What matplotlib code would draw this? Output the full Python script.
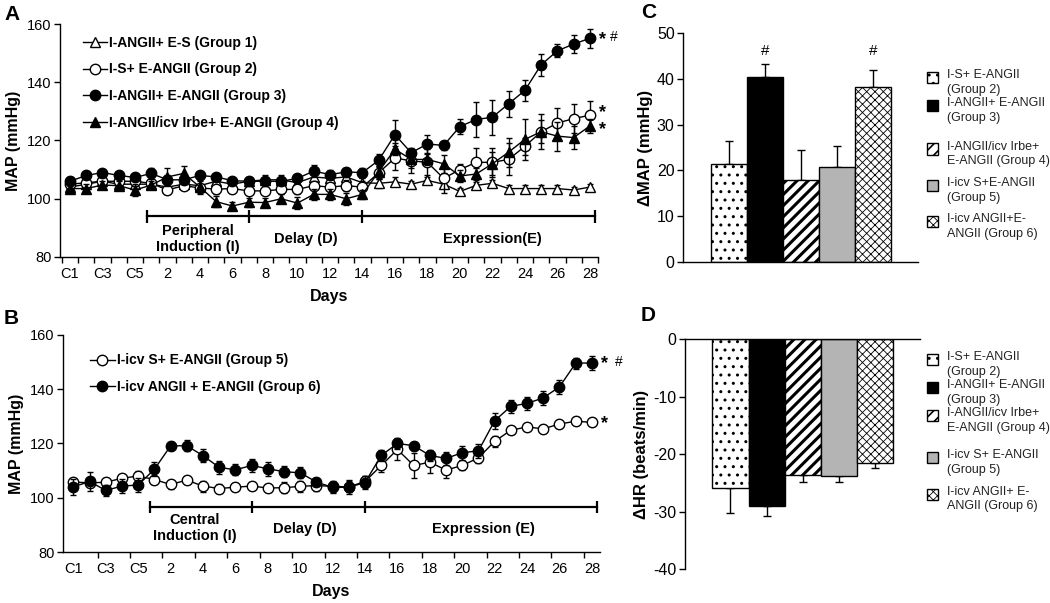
import matplotlib
matplotlib.use('Agg')
import matplotlib.pyplot as plt
from matplotlib.lines import Line2D
from matplotlib.patches import Rectangle
import numpy as np

plt.rcParams['font.family'] = ['Liberation Sans', 'DejaVu Sans']
plt.rcParams['axes.unicode_minus'] = False
plt.rcParams['axes.linewidth'] = 1.0

W, H = 1050, 603

# ------------------------------------------------------------------ data
day_labels = ['C1', 'C3', 'C5'] + [str(d) for d in range(2, 29, 2)]
n_points = 33   # C1..C5 + days 1..28
x_idx = np.arange(n_points)

# Panel A
g1_mean = [104, 105, 106, 105, 105, 105, 104, 105, 104.5, 106, 105, 106, 106.5, 106.5, 105.5, 107.5, 107,
           107.5, 105.5, 105.3, 105.8, 105, 106.3, 105, 102.5, 104.6, 105.3, 103.5, 103.5, 103.5, 103.5, 103, 104]
g1_sem = [1.5] * 21 + [1.2] * 12
g2_mean = [105, 105.5, 106, 106, 106, 105.3, 103, 104.5, 103.7, 103.3, 103.5, 102.7, 102.7, 103.2, 103.2, 104.5,
           104, 104.5, 104, 108.9, 114, 113, 112.5, 107, 110, 112.5, 112.5, 113.5, 118, 123, 126, 127.5, 128.7]
g2_sem = [1.2, 1.2, 1.2, 1.2, 1.5, 1.5, 1.5, 1.5, 1.5, 1.5, 1.5, 1.5, 1.5, 1.5, 1.5, 1.5, 1.5, 2, 2, 2, 4, 4,
          4.5, 5, 2, 5, 5, 5.5, 3, 4, 5, 5, 5]
g3_mean = [106, 108, 109, 108, 107.3, 108.7, 106.5, 106.5, 108, 107.5, 106.2, 106, 106, 106, 107, 109.5, 108.3,
           109.2, 109, 113.2, 122, 115.8, 118.8, 118.3, 124.8, 127.2, 128, 132.6, 137.2, 146, 150.8, 153.1, 155.1]
g3_sem = [1.5, 1, 1, 1, 1, 2, 1.5, 1.5, 1, 1, 1, 1, 1, 1, 1, 2, 1.5, 1.5, 1.5, 2, 5, 1.5, 3, 1.5, 2.5, 6, 6,
          4.5, 3.5, 3.7, 2.3, 3, 3.2]
g4_mean = [103.5, 103.5, 104.7, 104.5, 103, 104.7, 107.5, 108.7, 104, 99, 97.5, 98.8, 98.7, 100, 98.5, 101.5,
           101.5, 100, 101.5, 109.3, 117, 113.5, 113.5, 112, 107.8, 108.5, 112, 116, 120.4, 123, 121.5, 121, 125]
g4_sem = [1.5, 1.5, 1.5, 1.5, 2, 1.5, 3, 2.5, 2.5, 2, 1.5, 1.5, 1.5, 1.5, 2, 2, 2, 2, 1.5, 2, 2, 3, 2, 3, 2, 2,
          4, 5, 7, 6, 5, 4, 2.5]

# Panel B
g5_mean = [105.8, 105.5, 105.7, 107.2, 108, 106.7, 104.9, 106.5, 104.3, 103.4, 103.9, 104.3, 103.6, 103.7, 104.2,
           104.5, 104.2, 104, 106, 111.9, 117.8, 111.9, 113.1, 110.2, 111.9, 114.7, 120.8, 124.9, 126.1, 125.4,
           127.2, 128.2, 127.8]
g5_sem = [1.5, 1.5, 1.5, 1.5, 2, 1.5, 1.5, 1.5, 2, 1.5, 1.5, 1.5, 1.5, 2, 2, 2, 2, 2, 2, 2.5, 4, 4.5, 4, 3,
          1.5, 2, 2, 1.5, 1.5, 1.5, 1.5, 1.5, 1.5]
g6_mean = [104, 106, 102.7, 104.3, 104.7, 110.5, 119.1, 119.2, 115.5, 111.2, 110.3, 111.9, 110.7, 109.6, 109.2,
           105.8, 103.8, 103.9, 105.6, 115.6, 120, 119.2, 115.6, 114.5, 116.6, 117.3, 128.4, 133.7, 134.8, 136.8,
           140.9, 149.6, 149.7]
g6_sem = [3, 3.5, 2, 2.5, 2.5, 2.5, 1.5, 2, 2.5, 2.5, 2, 2.5, 2.5, 2, 2, 1.5, 2, 2.5, 2.5, 2, 2, 1.5, 2, 2.5,
          2.5, 2.5, 3, 2.5, 2.5, 2.5, 2.5, 2, 2.5]

# Panels C and D
bar_groups = ['I-S+ E-ANGII (Group 2)', 'I-ANGII+ E-ANGII (Group 3)', 'I-ANGII/icv Irbe+ E-ANGII (Group 4)',
              'I-icv S+E-ANGII (Group 5)', 'I-icv ANGII+E-ANGII (Group 6)']
dmap_mean = [21.3, 40.5, 17.9, 20.8, 38.2]
dmap_sem = [5.2, 2.8, 6.5, 4.6, 3.7]
dhr_mean = [-25.9, -29.1, -23.7, -23.8, -21.5]
dhr_sem = [4.4, 1.6, 1.1, 1.1, 1.0]

# phase brackets (index positions on the day axis)
phase_edges = [4.75, 11, 18, 32.3]

# ------------------------------------------------------------------ figure
fig = plt.figure(figsize=(10.5, 6.03), dpi=100)


def add_ax(l, t, r, b):
    return fig.add_axes([l / W, 1 - b / H, (r - l) / W, (b - t) / H])


axA = add_ax(60, 24, 598, 257)
axB = add_ax(63, 335, 600, 552)
axC = add_ax(683, 33, 918, 262)
axD = add_ax(685, 339, 920, 569)


def series(ax, y, e, marker, mfc, z, ms=7.5):
    ax.errorbar(x_idx, y, yerr=e, fmt='-', marker=marker, color='black', mfc=mfc, mec='black', ms=ms,
                mew=1.0, lw=1.0, elinewidth=1.0, capsize=2.5, capthick=1.0, zorder=z)


def style_line_ax(ax, xlim, minor_ticks):
    ax.set_xlim(*xlim)
    ax.set_ylim(80, 160)
    ax.set_yticks([80, 100, 120, 140, 160])
    ax.set_xticks(np.arange(0, n_points, 2))
    ax.set_xticklabels(day_labels)
    ax.set_xticks(minor_ticks, minor=True)
    ax.tick_params(axis='x', which='major', length=0, pad=7, labelsize=10.5)
    ax.tick_params(axis='x', which='minor', length=4, width=1, direction='out')
    ax.tick_params(axis='y', length=4, width=1, direction='out', labelsize=10.5, pad=2)
    for s in ['top', 'right']:
        ax.spines[s].set_visible(False)
    ax.set_ylabel('MAP (mmHg)', fontsize=11.5, fontweight='bold', labelpad=4)
    ax.set_xlabel('Days', fontsize=11.5, fontweight='bold', labelpad=6)


def bracket(ax, yb, labels):
    ax.plot([phase_edges[0], phase_edges[-1]], [yb, yb], color='black', lw=1.6, zorder=1)
    ax.vlines(phase_edges, yb - 2.3, yb + 2.3, color='black', lw=1.6, zorder=1)
    for (xc, yc, txt) in labels:
        ax.text(xc, yc, txt, ha='center', va='center', fontsize=10.5, fontweight='bold', linespacing=1.2)


# ---------------- Panel A
series(axA, g1_mean, g1_sem, '^', 'white', 3, ms=7)
series(axA, g2_mean, g2_sem, 'o', 'white', 4)
series(axA, g4_mean, g4_sem, '^', 'black', 5, ms=7.5)
series(axA, g3_mean, g3_sem, 'o', 'black', 6)
style_line_ax(axA, (-0.615, 32.49), np.arange(-0.5, 33, 1))
bracket(axA, 94, [(7.85, 86.3, 'Peripheral\nInduction (I)'), (14.5, 86.3, 'Delay (D)'),
                  (26.0, 86.3, 'Expression(E)')])
axA.text(32.55, g3_mean[-1] - 0.3, '*', fontsize=13, fontweight='bold', ha='left', va='center', clip_on=False)
axA.text(33.25, g3_mean[-1] + 0.3, '#', fontsize=10, ha='left', va='center', clip_on=False)
axA.text(32.55, g2_mean[-1] + 0.8, '*', fontsize=13, fontweight='bold', ha='left', va='center', clip_on=False)
axA.text(32.55, g4_mean[-1] - 1.4, '*', fontsize=13, fontweight='bold', ha='left', va='center', clip_on=False)

hA = [Line2D([], [], color='black', lw=1, marker='^', mfc='white', mec='black', ms=7),
      Line2D([], [], color='black', lw=1, marker='o', mfc='white', mec='black', ms=7.5),
      Line2D([], [], color='black', lw=1, marker='o', mfc='black', mec='black', ms=7.5),
      Line2D([], [], color='black', lw=1, marker='^', mfc='black', mec='black', ms=7.5)]
lA = ['I-ANGII+ E-S (Group 1)', 'I-S+ E-ANGII (Group 2)', 'I-ANGII+ E-ANGII (Group 3)',
      'I-ANGII/icv Irbe+ E-ANGII (Group 4)']
legA = axA.legend(hA, lA, loc='upper left', bbox_to_anchor=(0.042, 0.95), frameon=False, borderaxespad=0,
                  borderpad=0, handlelength=1.75, handletextpad=0.15, labelspacing=0.92,
                  prop={'size': 10, 'weight': 'bold'})

# ---------------- Panel B
series(axB, g5_mean, g5_sem, 'o', 'white', 4)
series(axB, g6_mean, g6_sem, 'o', 'black', 5)
style_line_ax(axB, (-0.64, 32.5), np.arange(1.5, 32, 2))
bracket(axB, 96.5, [(7.5, 88.8, 'Central\nInduction (I)'), (14.3, 88.6, 'Delay (D)'),
                    (25.3, 88.6, 'Expression (E)')])
axB.text(32.55, g6_mean[-1] - 0.3, '*', fontsize=13, fontweight='bold', ha='left', va='center', clip_on=False)
axB.text(33.45, g6_mean[-1] + 0.3, '#', fontsize=10, ha='left', va='center', clip_on=False)
axB.text(32.55, g5_mean[-1] - 0.6, '*', fontsize=13, fontweight='bold', ha='left', va='center', clip_on=False)
hB = [Line2D([], [], color='black', lw=1, marker='o', mfc='white', mec='black', ms=7.5),
      Line2D([], [], color='black', lw=1, marker='o', mfc='black', mec='black', ms=7.5)]
lB = ['I-icv S+ E-ANGII (Group 5)', 'I-icv ANGII + E-ANGII (Group 6)']
axB.legend(hB, lB, loc='upper left', bbox_to_anchor=(0.05, 0.915), frameon=False, borderaxespad=0,
           borderpad=0, handlelength=1.8, handletextpad=0.15, labelspacing=0.88,
           prop={'size': 10, 'weight': 'bold'})

# ---------------- Panels C and D
bar_x = np.arange(5)
bar_fc = ['white', 'black', 'white', '#b4b4b4', 'white']
bar_hatch = ['..', None, '///', None, 'xxxx']
bar_hlw = [1.0, 1.0, 2.2, 1.0, 0.6]


def draw_bars(ax, means, sems, up):
    for i in range(5):
        with plt.rc_context({'hatch.linewidth': bar_hlw[i]}):
            b = ax.bar(bar_x[i], means[i], width=1.0, color=bar_fc[i], edgecolor='black', lw=1.0,
                       hatch=bar_hatch[i], zorder=2)
        for p in b:
            if hasattr(p, 'set_hatch_linewidth'):
                p.set_hatch_linewidth(bar_hlw[i])
    yerr = [np.zeros(5), sems] if up else [sems, np.zeros(5)]
    ax.errorbar(bar_x, means, yerr=yerr, fmt='none', ecolor='black', elinewidth=1.0, capsize=3,
                capthick=1.0, zorder=1)


draw_bars(axC, dmap_mean, dmap_sem, True)
axC.set_xlim(-1.28, 5.25)
axC.set_ylim(0, 50)
axC.set_yticks([0, 10, 20, 30, 40, 50])
axC.set_xticks([])
axC.tick_params(axis='y', length=4, width=1, labelsize=11.5, pad=2)
for s in ['top', 'right']:
    axC.spines[s].set_visible(False)
axC.set_ylabel('\u0394MAP (mmHg)', fontsize=12, fontweight='bold', labelpad=3)
for i in [1, 4]:
    axC.text(bar_x[i], 46, '#', ha='center', va='center', fontsize=11)

draw_bars(axD, dhr_mean, dhr_sem, False)
axD.set_xlim(-1.26, 5.25)
axD.set_ylim(-40, 0)
axD.set_yticks([-40, -30, -20, -10, 0])
axD.set_xticks([])
axD.tick_params(axis='y', length=4, width=1, labelsize=11.5, pad=2)
for s in ['bottom', 'right']:
    axD.spines[s].set_visible(False)
axD.set_ylabel('\u0394HR (beats/min)', fontsize=12, fontweight='bold', labelpad=3)

# legends for C and D (manual placement to match irregular spacing)
leg_lines = [('I-S+ E-ANGII', '(Group 2)'), ('I-ANGII+ E-ANGII', '(Group 3)'),
             ('I-ANGII/icv Irbe+', 'E-ANGII (Group 4)')]
legC_text = leg_lines + [('I-icv S+E-ANGII', '(Group 5)'), ('I-icv ANGII+E-', 'ANGII (Group 6)')]
legD_text = leg_lines + [('I-icv S+ E-ANGII', '(Group 5)'), ('I-icv ANGII+ E-', 'ANGII (Group 6)')]
legC_y = [75.5, 103.5, 147, 183, 219.5]
legD_y = [357, 385, 413, 455, 492]


def bar_legend(texts, ys):
    for i, ((t1, t2), y) in enumerate(zip(texts, ys)):
        with plt.rc_context({'hatch.linewidth': min(bar_hlw[i], 1.2)}):
            r = Rectangle((927 / W, 1 - (y + 7.5) / H), 11 / W, 11 / H, transform=fig.transFigure,
                          facecolor=bar_fc[i], edgecolor='black', lw=1.0, hatch=bar_hatch[i])
        fig.patches.append(r)
        fig.text(947 / W, 1 - y / H, t1, fontsize=9, va='center', ha='left', color='#222222')
        fig.text(947 / W, 1 - (y + 14.5) / H, t2, fontsize=9, va='center', ha='left', color='#222222')


bar_legend(legC_text, legC_y)
bar_legend(legD_text, legD_y)

# panel letters
for letter, (x, y) in zip('ABCD', [(4, 15), (4, 318), (641, 12), (641, 316)]):
    fig.text(x / W, 1 - y / H, letter, fontsize=15, fontweight='bold', ha='left', va='center')

fig.savefig('out.png', dpi=100)
